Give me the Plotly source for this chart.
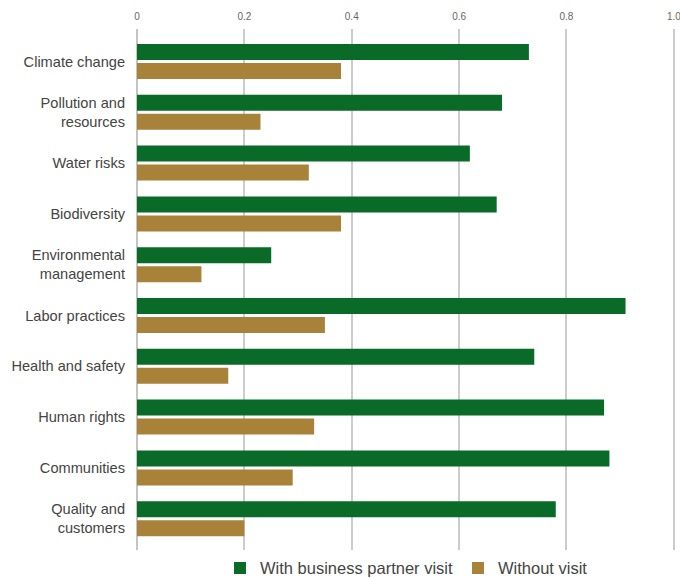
import plotly.graph_objects as go

categories = [
    "Climate change",
    "Pollution and<br>resources",
    "Water risks",
    "Biodiversity",
    "Environmental<br>management",
    "Labor practices",
    "Health and safety",
    "Human rights",
    "Communities",
    "Quality and<br>customers",
]
with_visit = [0.73, 0.68, 0.62, 0.67, 0.25, 0.91, 0.74, 0.87, 0.88, 0.78]
without_visit = [0.38, 0.23, 0.32, 0.38, 0.12, 0.35, 0.17, 0.33, 0.29, 0.20]
x_ticks = [0, 0.2, 0.4, 0.6, 0.8, 1.0]
x_tick_text = ["0", "0.2", "0.4", "0.6", "0.8", "1.0"]

GREEN = "#0a6b29"
GOLD = "#a88239"

fig = go.Figure()
fig.add_trace(go.Bar(y=categories, x=with_visit, orientation="h",
                     name="With business partner visit", marker_color=GREEN,
                     marker_line_width=0, hoverinfo="x+y"))
fig.add_trace(go.Bar(y=categories, x=without_visit, orientation="h",
                     name="Without visit", marker_color=GOLD,
                     marker_line_width=0, hoverinfo="x+y"))

fig.update_layout(
    width=680, height=578,
    margin=dict(l=137, r=4, t=29, b=28, pad=0, autoexpand=False),
    paper_bgcolor="white", plot_bgcolor="white",
    barmode="group", bargap=0.252, bargroupgap=0.158,
    font=dict(family="Liberation Sans, Arial, sans-serif", color="#444444"),
    xaxis=dict(
        side="top", range=[0, 1.004], tickvals=x_ticks, ticktext=x_tick_text,
        showgrid=True, gridcolor="#cccccc", gridwidth=1.5,
        zeroline=True, zerolinecolor="#c4c4c4", zerolinewidth=2,
        showline=False, ticks="", ticklabelstandoff=6,
        ticklabeloverflow="allow", automargin=False,
        tickfont=dict(size=10, color="#666666"), fixedrange=True,
    ),
    yaxis=dict(
        type="category", range=[9.616, -0.64], showgrid=False,
        zeroline=False, showline=False, ticks="", ticklabelstandoff=11,
        automargin=False,
        tickfont=dict(size=14.6, color="#444444"), fixedrange=True,
    ),
    legend=dict(
        orientation="h", x=0.5, xanchor="center",
        yref="container", y=0.047, yanchor="top",
        font=dict(size=16.5, color="#444444"), itemwidth=30,
        traceorder="normal", bgcolor="rgba(0,0,0,0)",
    ),
    showlegend=True,
)

fig.write_html("out.html")
